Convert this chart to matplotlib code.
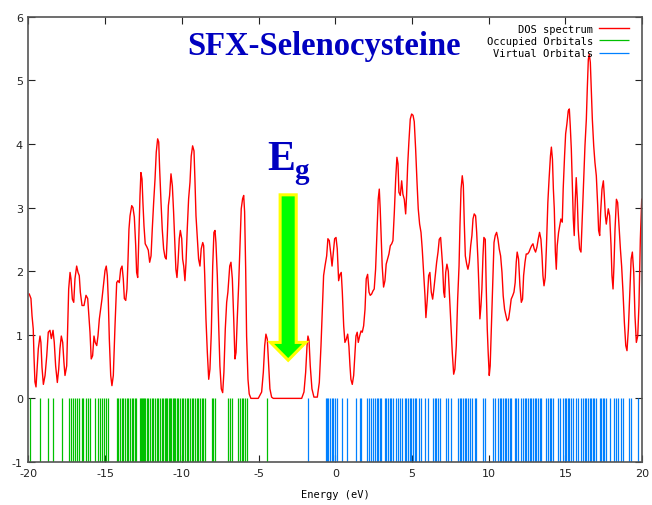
import matplotlib
matplotlib.use("Agg")
import matplotlib.pyplot as plt
from matplotlib.patches import FancyArrow

# DOS spectrum, sampled along energy (eV)
dos_energy = [
    -19.95, -19.84, -19.77, -19.69, -19.64, -19.58, -19.51, -19.43, -19.36, -19.25,
    -19.19, -19.12, -19.03, -18.92, -18.81, -18.71, -18.60, -18.51, -18.40, -18.32,
    -18.23, -18.12, -18.03, -17.95, -17.86, -17.77, -17.69, -17.62, -17.51, -17.45,
    -17.38, -17.29, -17.23, -17.14, -17.05, -16.97, -16.86, -16.77, -16.69, -16.62,
    -16.51, -16.38, -16.25, -16.14, -16.08, -15.99, -15.91, -15.82, -15.73, -15.65,
    -15.55, -15.47, -15.38, -15.29, -15.21, -15.12, -15.01, -14.93, -14.86, -14.80,
    -14.73, -14.64, -14.56, -14.47, -14.36, -14.25, -14.17, -14.08, -13.99, -13.90,
    -13.82, -13.75, -13.66, -13.58, -13.51, -13.45, -13.38, -13.27, -13.19, -13.10,
    -13.01, -12.95, -12.88, -12.80, -12.73, -12.67, -12.60, -12.54, -12.47, -12.39,
    -12.28, -12.19, -12.10, -12.01, -11.93, -11.84, -11.75, -11.67, -11.58, -11.51,
    -11.45, -11.36, -11.28, -11.19, -11.10, -11.02, -10.95, -10.88, -10.80, -10.71,
    -10.62, -10.54, -10.45, -10.39, -10.32, -10.25, -10.17, -10.10, -10.01, -9.95,
    -9.88, -9.80, -9.73, -9.65, -9.56, -9.47, -9.39, -9.30, -9.21, -9.15,
    -9.08, -9.00, -8.91, -8.82, -8.74, -8.64, -8.58, -8.51, -8.43, -8.34,
    -8.25, -8.17, -8.08, -7.99, -7.91, -7.84, -7.78, -7.69, -7.60, -7.52,
    -7.43, -7.34, -7.26, -7.17, -7.08, -7.00, -6.88, -6.80, -6.71, -6.62,
    -6.54, -6.47, -6.39, -6.30, -6.21, -6.13, -6.04, -5.97, -5.91, -5.84,
    -5.78, -5.69, -5.61, -5.50, -5.02, -4.80, -4.69, -4.60, -4.52, -4.43,
    -4.34, -4.26, -4.15, -4.04, -2.19, -2.04, -1.93, -1.84, -1.78, -1.71,
    -1.63, -1.52, -1.39, -1.17, -1.04, -0.93, -0.85, -0.76, -0.67, -0.56,
    -0.48, -0.39, -0.30, -0.21, -0.13, -0.04, 0.05, 0.13, 0.22, 0.31,
    0.39, 0.46, 0.55, 0.63, 0.72, 0.81, 0.89, 0.96, 1.02, 1.11,
    1.20, 1.29, 1.35, 1.43, 1.50, 1.59, 1.68, 1.76, 1.85, 1.94,
    2.02, 2.11, 2.20, 2.28, 2.37, 2.46, 2.54, 2.63, 2.72, 2.80,
    2.87, 2.93, 3.00, 3.06, 3.15, 3.24, 3.32, 3.41, 3.50, 3.59,
    3.68, 3.76, 3.85, 3.94, 4.02, 4.09, 4.15, 4.24, 4.33, 4.41,
    4.50, 4.59, 4.65, 4.72, 4.80, 4.89, 4.98, 5.07, 5.15, 5.24,
    5.33, 5.41, 5.50, 5.59, 5.67, 5.76, 5.85, 5.91, 6.00, 6.09,
    6.17, 6.26, 6.35, 6.43, 6.52, 6.61, 6.70, 6.78, 6.87, 7.00,
    7.07, 7.13, 7.20, 7.28, 7.37, 7.46, 7.54, 7.63, 7.72, 7.80,
    7.89, 7.98, 8.07, 8.13, 8.20, 8.28, 8.35, 8.41, 8.48, 8.57,
    8.65, 8.74, 8.83, 8.91, 8.98, 9.06, 9.15, 9.22, 9.30, 9.37,
    9.43, 9.50, 9.56, 9.63, 9.69, 9.78, 9.84, 9.91, 9.97, 10.04,
    10.10, 10.17, 10.26, 10.35, 10.43, 10.52, 10.61, 10.69, 10.78, 10.87,
    10.95, 11.04, 11.13, 11.21, 11.30, 11.39, 11.47, 11.56, 11.65, 11.73,
    11.80, 11.86, 11.95, 12.04, 12.13, 12.21, 12.28, 12.37, 12.45, 12.54,
    12.63, 12.71, 12.80, 12.89, 12.97, 13.06, 13.15, 13.23, 13.32, 13.41,
    13.48, 13.54, 13.61, 13.69, 13.77, 13.86, 13.94, 14.03, 14.09, 14.16,
    14.22, 14.28, 14.35, 14.41, 14.47, 14.56, 14.65, 14.71, 14.80, 14.86,
    14.95, 15.02, 15.10, 15.19, 15.26, 15.32, 15.39, 15.45, 15.52, 15.58,
    15.65, 15.71, 15.78, 15.84, 15.93, 16.02, 16.10, 16.19, 16.28, 16.37,
    16.43, 16.50, 16.56, 16.63, 16.69, 16.76, 16.85, 16.93, 17.02, 17.11,
    17.17, 17.24, 17.30, 17.39, 17.48, 17.54, 17.61, 17.67, 17.74, 17.80,
    17.89, 17.98, 18.04, 18.11, 18.17, 18.24, 18.33, 18.41, 18.50, 18.59,
    18.67, 18.76, 18.85, 18.94, 19.02, 19.11, 19.20, 19.29, 19.37, 19.46,
    19.54, 19.63, 19.72, 19.80, 19.89, 19.98,
]
dos_value = [
    1.64, 1.57, 1.30, 1.09, 0.65, 0.26, 0.18, 0.51, 0.78, 0.98,
    0.88, 0.49, 0.22, 0.36, 0.67, 1.04, 1.07, 0.94, 1.07, 0.88,
    0.51, 0.25, 0.46, 0.78, 0.98, 0.88, 0.57, 0.36, 0.51, 1.04,
    1.72, 1.98, 1.88, 1.56, 1.51, 1.88, 2.08, 1.98, 1.93, 1.67,
    1.46, 1.46, 1.62, 1.57, 1.35, 1.04, 0.62, 0.67, 0.98, 0.88,
    0.83, 0.98, 1.25, 1.41, 1.56, 1.77, 2.01, 2.08, 1.93, 1.57,
    0.93, 0.36, 0.20, 0.36, 1.14, 1.82, 1.85, 1.82, 2.03, 2.08,
    1.88, 1.57, 1.54, 1.72, 2.19, 2.66, 2.87, 3.03, 3.00, 2.85,
    2.40, 1.98, 1.90, 2.61, 3.19, 3.55, 3.45, 3.08, 2.71, 2.43,
    2.38, 2.33, 2.14, 2.24, 2.66, 3.08, 3.45, 3.87, 4.08, 4.03,
    3.61, 3.08, 2.66, 2.35, 2.22, 2.19, 2.56, 3.03, 3.19, 3.53,
    3.34, 2.93, 2.40, 2.03, 1.90, 2.14, 2.51, 2.64, 2.51, 2.19,
    2.08, 1.85, 2.14, 2.66, 3.14, 3.40, 3.81, 3.97, 3.89, 3.45,
    2.87, 2.56, 2.19, 2.08, 2.35, 2.45, 2.40, 1.93, 1.25, 0.72,
    0.30, 0.46, 1.04, 2.08, 2.61, 2.64, 2.45, 1.93, 1.14, 0.51,
    0.15, 0.09, 0.41, 1.09, 1.51, 1.67, 2.08, 2.14, 1.88, 1.25,
    0.62, 0.72, 1.25, 1.77, 2.40, 2.98, 3.14, 3.19, 2.93, 2.03,
    0.98, 0.30, 0.07, 0.00, 0.00, 0.10, 0.41, 0.83, 1.01, 0.93,
    0.51, 0.15, 0.02, 0.00, 0.00, 0.10, 0.41, 0.83, 0.98, 0.91,
    0.51, 0.15, 0.02, 0.02, 0.25, 0.83, 1.35, 1.93, 2.08, 2.24,
    2.51, 2.48, 2.29, 2.08, 2.29, 2.51, 2.53, 2.35, 1.85, 1.95,
    1.98, 1.67, 1.14, 0.88, 0.93, 1.01, 0.82, 0.51, 0.30, 0.22,
    0.36, 0.72, 0.98, 1.04, 0.88, 0.98, 1.06, 1.04, 1.14, 1.40,
    1.88, 1.95, 1.67, 1.62, 1.64, 1.69, 1.72, 2.03, 2.61, 3.13,
    3.29, 2.98, 2.50, 2.08, 1.75, 1.85, 2.11, 2.19, 2.27, 2.40,
    2.43, 2.48, 2.92, 3.45, 3.79, 3.69, 3.24, 3.19, 3.42, 3.21,
    3.13, 2.90, 3.19, 3.66, 4.03, 4.39, 4.47, 4.45, 4.35, 3.92,
    3.40, 2.98, 2.74, 2.61, 2.35, 1.98, 1.61, 1.27, 1.56, 1.93,
    1.98, 1.67, 1.56, 1.72, 1.93, 2.14, 2.30, 2.50, 2.53, 2.08,
    1.67, 1.59, 1.98, 2.11, 2.00, 1.56, 1.14, 0.72, 0.38, 0.46,
    0.83, 1.56, 2.08, 2.71, 3.29, 3.50, 3.35, 2.77, 2.24, 2.11,
    2.03, 2.14, 2.40, 2.56, 2.82, 2.90, 2.87, 2.61, 2.19, 1.72,
    1.25, 1.46, 1.72, 2.24, 2.53, 2.50, 1.77, 1.09, 0.72, 0.36,
    0.51, 1.04, 1.77, 2.45, 2.56, 2.61, 2.50, 2.35, 2.24, 1.98,
    1.61, 1.40, 1.30, 1.22, 1.25, 1.40, 1.56, 1.61, 1.67, 1.82,
    2.14, 2.30, 2.19, 1.77, 1.51, 1.56, 1.93, 2.14, 2.27, 2.27,
    2.30, 2.35, 2.40, 2.43, 2.35, 2.30, 2.38, 2.50, 2.61, 2.50,
    2.24, 1.93, 1.77, 1.90, 2.40, 3.08, 3.45, 3.81, 3.95, 3.76,
    3.29, 2.98, 2.30, 2.03, 2.40, 2.61, 2.74, 2.82, 2.77, 3.29,
    3.81, 4.16, 4.31, 4.52, 4.55, 4.29, 3.92, 3.40, 2.82, 2.56,
    3.13, 3.47, 3.13, 2.66, 2.35, 2.30, 2.82, 3.45, 3.97, 4.39,
    4.86, 5.33, 5.41, 5.28, 4.86, 4.39, 3.97, 3.71, 3.50, 3.03,
    2.64, 2.56, 2.92, 3.29, 3.42, 3.19, 2.87, 2.74, 2.87, 2.98,
    2.87, 2.40, 1.93, 1.72, 2.08, 2.66, 3.13, 3.08, 2.71, 2.35,
    2.08, 1.67, 1.19, 0.83, 0.75, 1.09, 1.62, 2.19, 2.30, 1.98,
    1.30, 0.88, 0.98, 1.46, 2.50, 3.13,
]

# orbital energies (eV)
occupied = [
    -19.90, -19.25, -18.71, -18.38, -17.84, -17.34, -17.25, -17.08, -16.97, -16.82,
    -16.69, -16.53, -16.43, -16.25, -16.10, -15.99, -15.66, -15.45, -15.34, -15.23,
    -15.08, -14.95, -14.84, -14.25, -14.15, -14.04, -13.92, -13.82, -13.71, -13.56,
    -13.49, -13.38, -13.27, -13.17, -13.06, -12.99, -12.73, -12.67, -12.60, -12.54,
    -12.47, -12.41, -12.29, -12.19, -12.08, -11.97, -11.90, -11.75, -11.64, -11.54,
    -11.43, -11.32, -11.21, -11.12, -11.04, -10.95, -10.86, -10.77, -10.69, -10.60,
    -10.52, -10.43, -10.34, -10.23, -10.12, -10.01, -9.91, -9.80, -9.69, -9.58,
    -9.47, -9.36, -9.26, -9.15, -9.04, -8.93, -8.82, -8.71, -8.61, -8.49,
    -8.06, -7.95, -7.84, -6.98, -6.86, -6.71, -6.32, -6.21, -6.10, -6.00,
    -5.89, -5.78, -4.47,
]
virtual = [
    -1.80, -0.63, -0.55, -0.45, -0.35, -0.24, -0.13, -0.02, 0.09, 0.41,
    0.78, 1.34, 1.60, 1.71, 2.04, 2.21, 2.36, 2.47, 2.58, 2.69,
    2.80, 2.91, 3.01, 3.23, 3.34, 3.45, 3.56, 3.66, 3.77, 3.99,
    4.10, 4.25, 4.38, 4.53, 4.64, 4.75, 4.86, 4.97, 5.08, 5.18,
    5.29, 5.47, 5.62, 5.83, 6.05, 6.38, 6.49, 6.59, 6.70, 6.81,
    7.20, 7.35, 7.57, 8.00, 8.11, 8.22, 8.33, 8.44, 8.55, 8.66,
    8.76, 8.94, 9.09, 9.20, 9.63, 9.74, 10.28, 10.39, 10.61, 10.72,
    10.83, 10.93, 11.04, 11.15, 11.26, 11.37, 11.48, 11.69, 11.80, 11.91,
    12.13, 12.24, 12.34, 12.45, 12.56, 12.67, 12.78, 12.89, 13.00, 13.10,
    13.21, 13.32, 13.43, 13.76, 13.86, 13.97, 14.08, 14.19, 14.51, 14.62,
    14.84, 14.95, 15.06, 15.17, 15.27, 15.38, 15.49, 15.71, 15.82, 16.03,
    16.14, 16.25, 16.36, 16.47, 16.58, 16.68, 16.79, 16.90, 17.01, 17.23,
    17.34, 17.44, 17.55, 17.66, 17.88, 18.20, 18.31, 18.42, 18.64, 18.75,
    19.18, 19.29, 19.72,
]

xticks = [-20, -15, -10, -5, 0, 5, 10, 15, 20]
yticks = [-1, 0, 1, 2, 3, 4, 5, 6]

red = "#ff0000"
green = "#00c000"
blue = "#0080ff"
title_blue = "#0000c0"

fig = plt.figure(figsize=(6.52, 5.06), dpi=100)
ax = fig.add_axes([0.0437, 0.085, 0.941, 0.880])

ax.plot(dos_energy, dos_value, color=red, lw=1.0, label="DOS spectrum")
ax.vlines(occupied, -1, 0, colors=green, lw=0.9, label="Occupied Orbitals")
ax.vlines(virtual, -1, 0, colors=blue, lw=0.9, label="Virtual Orbitals")

ax.set_xlim(-20, 20)
ax.set_ylim(-1, 6)
ax.set_xticks(xticks)
ax.set_yticks(yticks)
ax.set_xticklabels([str(t) for t in xticks])
ax.set_yticklabels([str(t) for t in yticks])
ax.tick_params(direction="in", top=True, right=True, length=5, width=0.8,
               labelsize=8, colors="#222222", pad=4)
for s in ax.spines.values():
    s.set_color("#555555")
    s.set_linewidth(1.2)
ax.set_xlabel("Energy (eV)", fontsize=7.5, family="DejaVu Sans Mono", labelpad=8)

# band gap arrow and its label
ax.add_patch(FancyArrow(-3.07, 3.2, 0, -2.6, width=1.05, head_width=2.3,
                        head_length=0.28, length_includes_head=True,
                        facecolor="#00ff00", edgecolor="#ffff00", lw=2.2, zorder=5))
ax.text(-3.55, 3.6, "E", color=title_blue, fontsize=30, fontweight="bold",
        family="Liberation Serif", ha="center", va="baseline")
ax.text(-2.22, 3.47, "g", color=title_blue, fontsize=21, fontweight="bold",
        family="Liberation Serif", ha="center", va="baseline")

ax.text(0.482, 0.935, "SFX-Selenocysteine", transform=ax.transAxes, color=title_blue,
        fontsize=23.5, fontweight="bold", family="Liberation Serif",
        ha="center", va="center")

ax.legend(loc="upper right", bbox_to_anchor=(0.99, 1.0), frameon=False,
          markerfirst=False, handlelength=2.8,
          prop={"family": "DejaVu Sans Mono", "size": 7.5}, labelspacing=0.2,
          borderaxespad=0.3, handletextpad=0.6)

fig.savefig("out.png", dpi=100)
